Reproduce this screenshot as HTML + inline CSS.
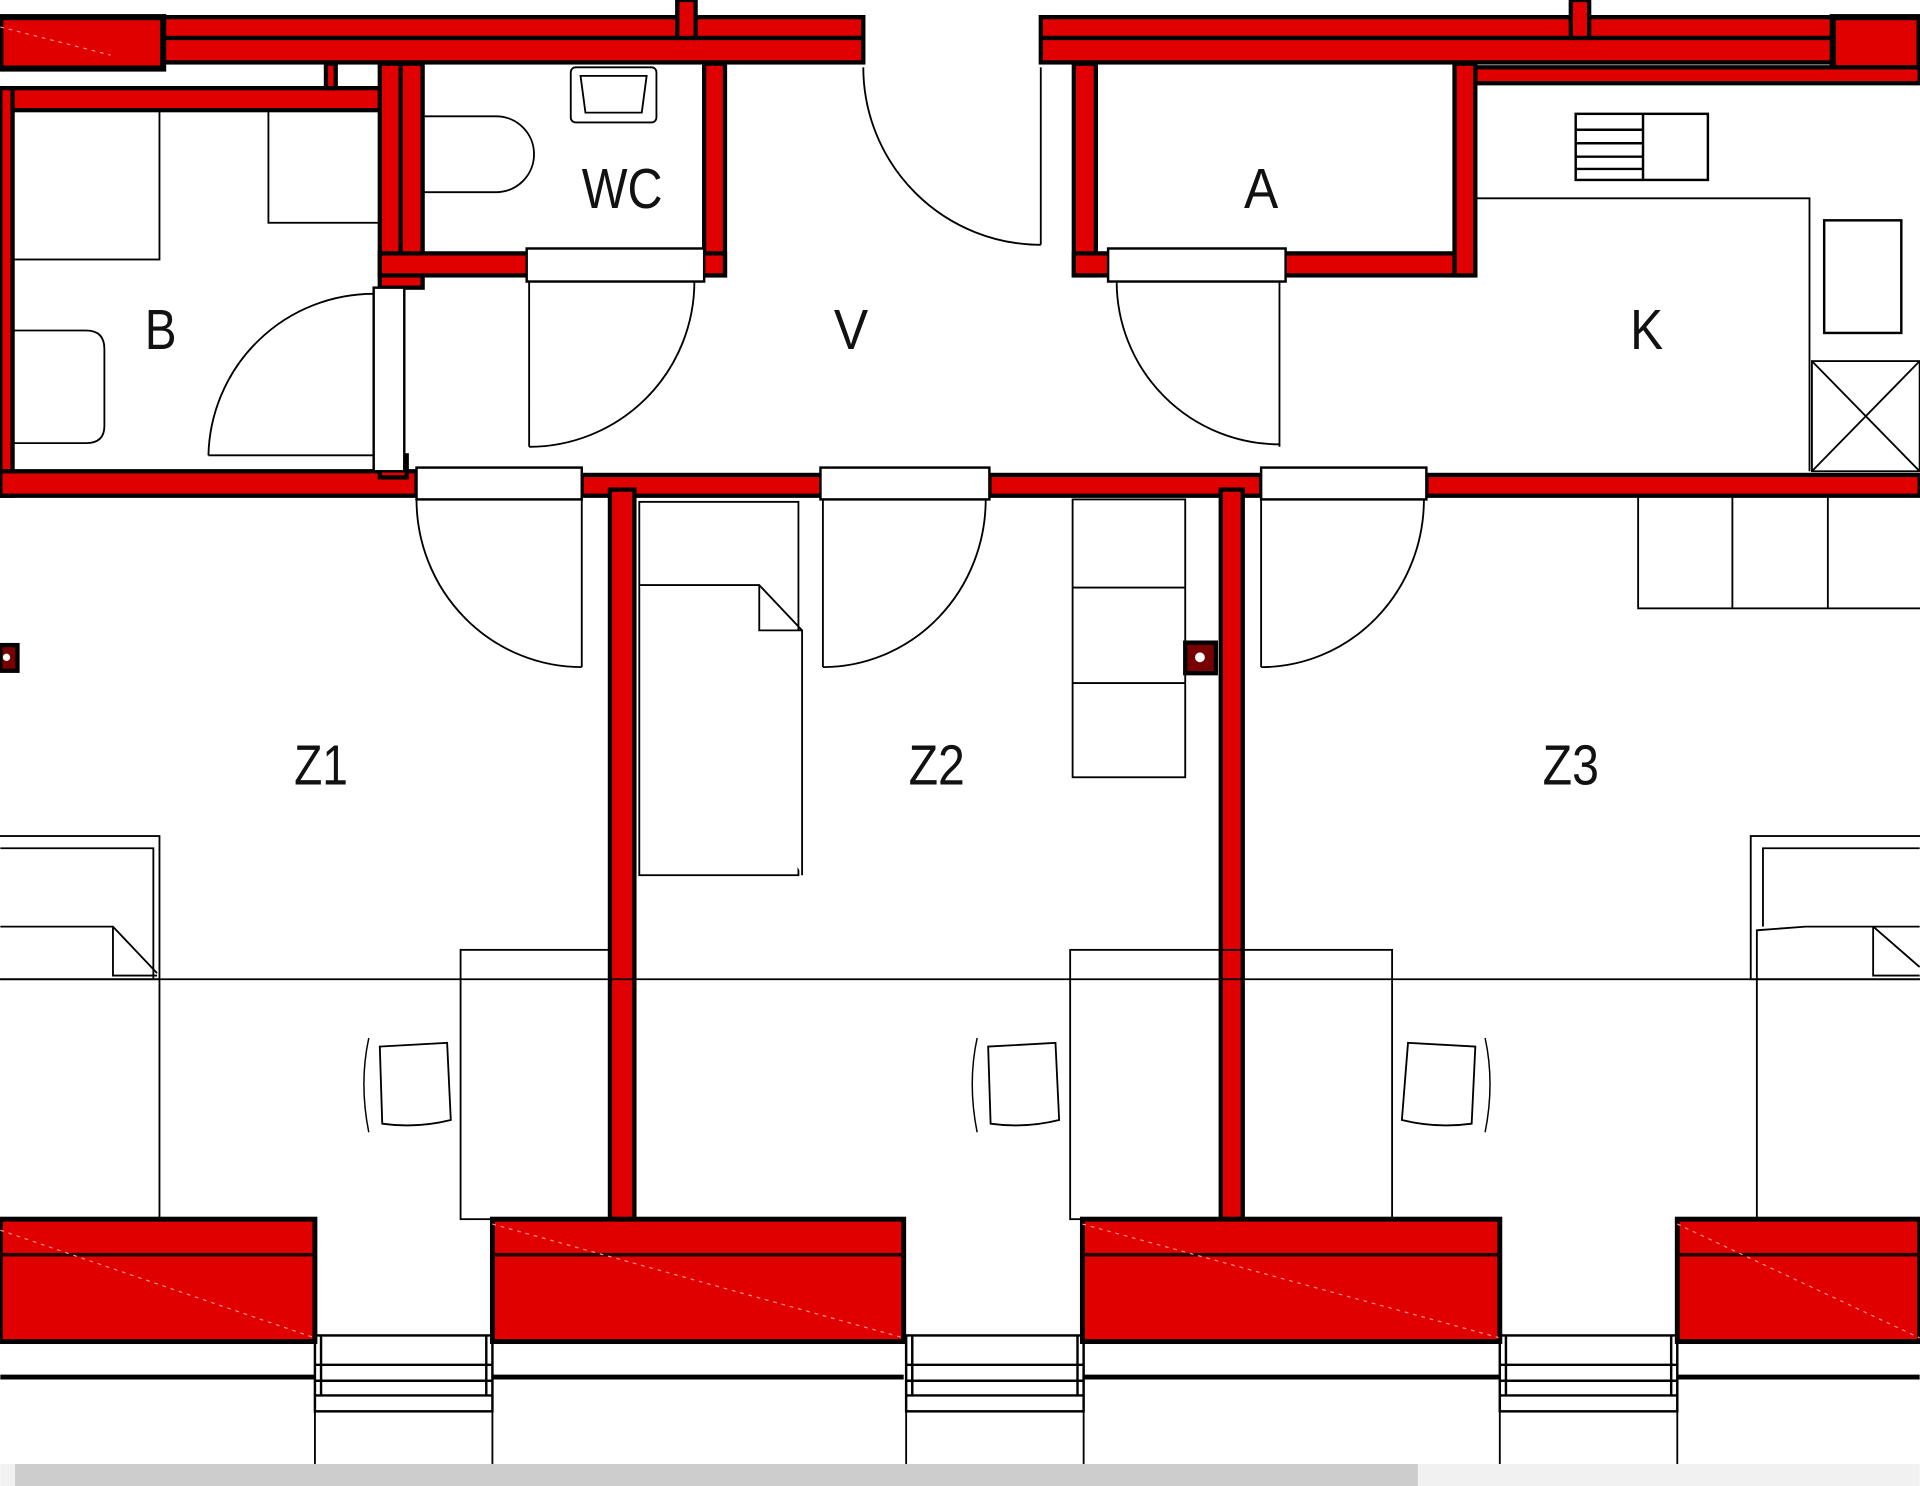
<!DOCTYPE html>
<html><head><meta charset="utf-8"><style>
html,body{margin:0;padding:0;background:#fff;}
svg{display:block;}
text{font-family:"Liberation Sans Narrow","Liberation Sans",sans-serif;font-size:46px;fill:#111;text-anchor:middle;}
</style></head><body>
<svg width="1920" height="1486" viewBox="0 0 1568 1214" xmlns="http://www.w3.org/2000/svg">
<rect width="1568" height="1214" fill="#fff"/>
<g stroke="#000" stroke-width="3.5" fill="#e00000">
<rect x="0" y="14" width="705" height="37"/>
<rect x="850" y="14" width="718" height="37"/>
<line x1="133" y1="31" x2="705" y2="31"/>
<line x1="850" y1="31" x2="1497" y2="31"/>
<rect x="0" y="14" width="133" height="42" stroke-width="5"/>
<rect x="1497" y="14" width="71" height="42" stroke-width="5"/>
<rect x="553" y="0" width="15" height="31"/>
<rect x="1283" y="0" width="15" height="31"/>
<rect x="1205" y="55" width="363" height="13"/>
<rect x="0" y="72" width="312" height="18"/>
<rect x="266" y="52" width="8" height="20"/>
<rect x="0" y="72" width="10" height="333"/>
<rect x="0" y="385" width="340" height="20"/>
<rect x="310" y="52" width="35" height="183"/>
<line x1="327" y1="52" x2="327" y2="225"/>
<rect x="310" y="207" width="122" height="18"/>
<rect x="575" y="52" width="17" height="173"/>
<rect x="565" y="207" width="27" height="18"/>
<rect x="310" y="372" width="22" height="18"/>
<rect x="877" y="52" width="18" height="173"/>
<rect x="877" y="207" width="33" height="18"/>
<rect x="1045" y="207" width="160" height="18"/>
<rect x="1188" y="52" width="17" height="173"/>
<rect x="475" y="388" width="197" height="17"/>
<rect x="808" y="388" width="222" height="17"/>
<rect x="1165" y="388" width="403" height="17"/>
<rect x="498" y="400" width="20" height="625"/>
<rect x="997" y="400" width="18" height="625"/>
<rect x="0" y="527" width="14" height="21" fill="#700"/>
<rect x="968" y="525" width="25" height="25" fill="#700"/>
<rect x="0" y="996" width="257" height="100" stroke-width="4"/>
<rect x="402" y="996" width="336" height="100" stroke-width="4"/>
<rect x="884" y="996" width="341" height="100" stroke-width="4"/>
<rect x="1370" y="996" width="198" height="100" stroke-width="4"/>
</g>
<circle cx="5" cy="537" r="3" fill="#fff"/>
<circle cx="980" cy="537" r="4" fill="#fff"/>
<g stroke="#200" stroke-width="3">
<line x1="0" y1="1025" x2="257" y2="1025"/><line x1="402" y1="1025" x2="738" y2="1025"/>
<line x1="884" y1="1025" x2="1225" y2="1025"/><line x1="1370" y1="1025" x2="1568" y2="1025"/>
</g>
<g stroke="#ff9090" stroke-width="1" stroke-dasharray="3 4" fill="none">
<line x1="0" y1="1005" x2="257" y2="1093"/><line x1="402" y1="1000" x2="738" y2="1093"/>
<line x1="884" y1="1000" x2="1225" y2="1093"/><line x1="1370" y1="1000" x2="1568" y2="1093"/>
<line x1="0" y1="22" x2="90" y2="45"/>
</g>
<g fill="none" stroke="#000" stroke-width="2">
<line x1="0" y1="1125" x2="257" y2="1125" stroke-width="4"/>
<line x1="402" y1="1125" x2="738" y2="1125" stroke-width="4"/>
<line x1="884" y1="1125" x2="1225" y2="1125" stroke-width="4"/>
<line x1="1370" y1="1125" x2="1568" y2="1125" stroke-width="4"/>
<g id="st">
<rect x="257" y="1091" width="145" height="62"/>
<line x1="257" y1="1115" x2="402" y2="1115"/>
<line x1="257" y1="1128" x2="402" y2="1128"/>
<line x1="257" y1="1140" x2="402" y2="1140"/>
<line x1="262" y1="1091" x2="262" y2="1140"/><line x1="397" y1="1091" x2="397" y2="1140"/>
<line x1="257" y1="1091" x2="257" y2="1196" stroke-width="1.5"/>
<line x1="402" y1="1091" x2="402" y2="1196" stroke-width="1.5"/>
</g>
<use href="#st" transform="translate(483,0)"/>
<use href="#st" transform="translate(968,0)"/>
<rect x="305" y="235" width="25" height="150" fill="#fff"/>
<path d="M305 372 L170 372 M305 240 A135 135 0 0 0 170 372" stroke-width="1.5"/>
<rect x="430" y="203" width="145" height="27" fill="#fff"/>
<path d="M432 230 L432 365 M567 230 A135 135 0 0 1 432 365" stroke-width="1.5"/>
<path d="M850 55 L850 200 M705 55 A145 145 0 0 0 850 200" stroke-width="1.5"/>
<rect x="905" y="203" width="145" height="27" fill="#fff"/>
<path d="M1045 230 L1045 365 M912 230 A133 133 0 0 0 1045 363" stroke-width="1.5"/>
<rect x="340" y="382" width="135" height="26" fill="#fff"/>
<rect x="670" y="382" width="138" height="26" fill="#fff"/>
<rect x="1030" y="382" width="135" height="26" fill="#fff"/>
<path d="M475 408 L475 545 M340 408 A135 137 0 0 0 475 545" stroke-width="1.5"/>
<path d="M672 408 L672 545 M805 408 A133 137 0 0 1 672 545" stroke-width="1.5"/>
<path d="M1030 408 L1030 545 M1163 408 A133 137 0 0 1 1030 545" stroke-width="1.5"/>
<rect x="10" y="90" width="120" height="122" stroke-width="1.5"/>
<rect x="219" y="90" width="91" height="92" stroke-width="1.5"/>
<path d="M10 270 L70 270 Q85 270 85 285 L85 348 Q85 362 70 362 L10 362" stroke-width="1.5"/>
<path d="M345 95 L405 95 A31 31 0 0 1 405 157 L345 157" stroke-width="1.5"/>
<rect x="466" y="55" width="70" height="45" rx="4" stroke-width="1.5"/>
<path d="M474 62 L528 62 L524 92 L478 92 Z" stroke-width="1.5"/>
<path d="M1205 162 L1478 162 L1478 385" stroke-width="1.5"/>
<rect x="1287" y="93" width="108" height="54"/>
<line x1="1342" y1="93" x2="1342" y2="147"/>
<line x1="1287" y1="106" x2="1342" y2="106"/><line x1="1287" y1="117" x2="1342" y2="117"/>
<line x1="1287" y1="128" x2="1342" y2="128"/><line x1="1287" y1="138" x2="1342" y2="138"/>
<rect x="1490" y="180" width="63" height="92"/>
<rect x="1480" y="295" width="88" height="90" stroke-width="1.5"/>
<path d="M1480 295 L1568 385 M1568 295 L1480 385" stroke-width="1.5"/>
<rect x="522" y="410" width="130" height="305" stroke-width="1.5"/>
<path d="M522 478 L620 478 L655 515 L655 715 M620 478 L620 515 L655 515" stroke-width="1.5" fill="#fff"/>
<rect x="876" y="408" width="92" height="227" stroke-width="1.5"/>
<line x1="876" y1="480" x2="968" y2="480" stroke-width="1.5"/>
<line x1="876" y1="558" x2="968" y2="558" stroke-width="1.5"/>
<rect x="1338" y="405" width="232" height="92" stroke-width="1.5"/>
<line x1="1415" y1="405" x2="1415" y2="497" stroke-width="1.5"/>
<line x1="1493" y1="405" x2="1493" y2="497" stroke-width="1.5"/>
<line x1="0" y1="800" x2="1568" y2="800" stroke-width="1.5"/>
<rect x="-5" y="683" width="135" height="117" stroke-width="1.5"/>
<path d="M0 693 L125 693 L125 800" stroke-width="1.5"/>
<path d="M0 757 L92 757 L128 795 M92 757 L92 797 L128 797" stroke-width="1.5"/>
<line x1="130" y1="800" x2="130" y2="995" stroke-width="1.5"/>
<rect x="376" y="776" width="122" height="220" stroke-width="1.5"/>
<rect x="874" y="776" width="263" height="220" stroke-width="1.5"/>
<rect x="1430" y="683" width="140" height="117" stroke-width="1.5"/>
<path d="M1568 693 L1440 693 L1440 757" stroke-width="1.5"/>
<path d="M1568 757 L1475 757 L1435 760 L1435 995 M1530 757 L1530 797 L1568 797 M1530 757 L1568 790" stroke-width="1.5"/>
<path d="M310 855 L365 852 L368 915 Q340 922 312 918 Z" stroke-width="1.5"/>
<path d="M301 848 Q293 885 301 925" stroke-width="1.2"/>
<path d="M807 855 L862 852 L865 915 Q837 922 809 918 Z" stroke-width="1.5"/>
<path d="M798 848 Q790 885 798 925" stroke-width="1.2"/>
<path d="M1205 855 L1150 852 L1145 915 Q1173 922 1202 918 Z" stroke-width="1.5"/>
<path d="M1213 848 Q1221 885 1213 925" stroke-width="1.2"/>
</g>
<rect x="0" y="1196" width="1568" height="18" fill="#f1f1f1"/>
<rect x="12" y="1196" width="1146" height="18" fill="#cdcdcd"/>
<text x="131" y="285" textLength="26" lengthAdjust="spacingAndGlyphs">B</text>
<text x="508" y="170" textLength="66" lengthAdjust="spacingAndGlyphs">WC</text>
<text x="695" y="285" textLength="28" lengthAdjust="spacingAndGlyphs">V</text>
<text x="1030" y="170" textLength="28" lengthAdjust="spacingAndGlyphs">A</text>
<text x="1345" y="285" textLength="27" lengthAdjust="spacingAndGlyphs">K</text>
<text x="262" y="641" textLength="44" lengthAdjust="spacingAndGlyphs">Z1</text>
<text x="765" y="641" textLength="46" lengthAdjust="spacingAndGlyphs">Z2</text>
<text x="1283" y="641" textLength="46" lengthAdjust="spacingAndGlyphs">Z3</text>
</svg>
</body></html>
